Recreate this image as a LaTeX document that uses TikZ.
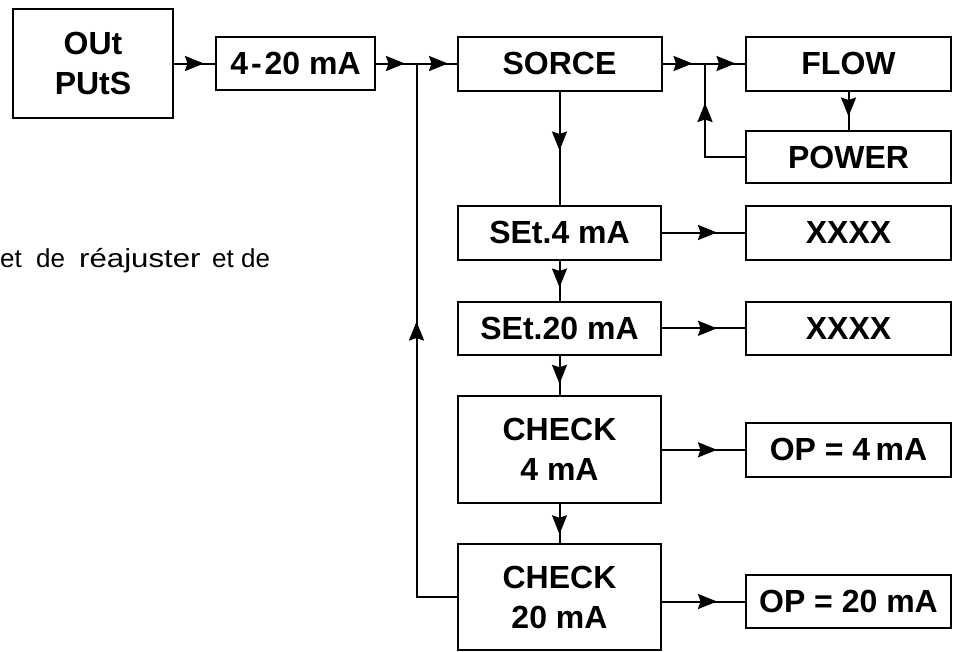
\documentclass[tikz,border=0pt]{standalone}
\usepackage{fontspec}
\setmainfont{Liberation Sans}
\usetikzlibrary{arrows.meta,decorations.markings}
\begin{document}
\begin{tikzpicture}[x=1pt,y=-1pt,
  box/.style={draw, line width=2pt, inner sep=0pt, align=center,
    font=\fontsize{32}{40}\selectfont\bfseries},
  conn/.style={line width=2pt},
  tipat/.style={postaction={decorate},decoration={markings,
    mark=at position #1 with {\arrow{Stealth[length=19pt,width=15pt,inset=2.5pt]}}}},
  tiptwo/.style n args={2}{postaction={decorate},decoration={markings,
    mark=at position #1 with {\arrow{Stealth[length=19pt,width=15pt,inset=2.5pt]}},
    mark=at position #2 with {\arrow{Stealth[length=19pt,width=15pt,inset=2.5pt]}}}},
]
\useasboundingbox (0,0) rectangle (956,651);

% text fragment
\node[anchor=base west, inner sep=0pt, font=\fontsize{26}{31}\selectfont] (txt) at (0,267)
  {\makebox[36pt][l]{et}\makebox[43pt][l]{de}\makebox[133pt][l]{\scalebox{1.2}[1]{réajuster}}\makebox[29pt][l]{et}de};

% boxes
\node[box, minimum width=160pt, minimum height=109pt] (out) at (93,63.5) {OUt\\PUtS};
\node[box, minimum width=159pt, minimum height=53pt] (r420) at (295.5,63.5) {4\hspace{3pt}-\hspace{3pt}20 mA};
\node[box, minimum width=204pt, minimum height=54pt] (sorce) at (559.5,63.5) {SORCE};
\node[box, minimum width=205pt, minimum height=54pt] (flow) at (848.5,63.5) {FLOW};
\node[box, minimum width=205pt, minimum height=52pt] (power) at (848.5,157) {POWER};
\node[box, minimum width=203pt, minimum height=54pt] (set4) at (559.5,232.5) {SEt.4 mA};
\node[box, minimum width=205pt, minimum height=54pt] (x1) at (848.5,232.5) {XXXX};
\node[box, minimum width=203pt, minimum height=53pt] (set20) at (559.5,328.3) {SEt.20 mA};
\node[box, minimum width=205pt, minimum height=53pt] (x2) at (848.5,328.3) {XXXX};
\node[box, minimum width=203pt, minimum height=107pt] (chk4) at (559.5,449.8) {CHECK\\4 mA};
\node[box, minimum width=205pt, minimum height=54pt] (op4) at (848.5,449.8) {OP = 4\,mA};
\node[box, minimum width=203pt, minimum height=106pt] (chk20) at (559.5,597) {CHECK\\20 mA};
\node[box, minimum width=205pt, minimum height=53pt] (op20) at (848.5,601.5) {OP = 20 mA};

% junctions
\coordinate (j1) at (416.5,63.5);
\coordinate (j2) at (705,63.5);

% connectors
\draw[conn, tipat=30pt] (out) -- (r420);
\draw[conn, tiptwo={29pt}{72pt}] (r420) -- (j1) -- (sorce);
\draw[conn, tiptwo={30pt}{73pt}] (sorce) -- (j2) -- (flow);
\draw[conn, tipat=25pt] (flow) -- (power);
\draw[conn, tipat=94pt] (power) -- (power.west -| j2) -- (j2);
\draw[conn, tipat=59pt] (sorce) -- (set4);
\draw[conn, tipat=27pt] (set4) -- (set20);
\draw[conn, tipat=28pt] (set20) -- (chk4);
\draw[conn, tipat=30pt] (chk4) -- (chk20);
\draw[conn, tipat=316pt] (chk20) -- (chk20.west -| j1) -- (j1);
\draw[conn, tipat=55pt] (set4) -- (x1);
\draw[conn, tipat=55pt] (set20) -- (x2);
\draw[conn, tipat=55pt] (chk4) -- (op4);
\draw[conn, tipat=55pt] (chk20.east |- op20) -- (op20);
\end{tikzpicture}
\end{document}
